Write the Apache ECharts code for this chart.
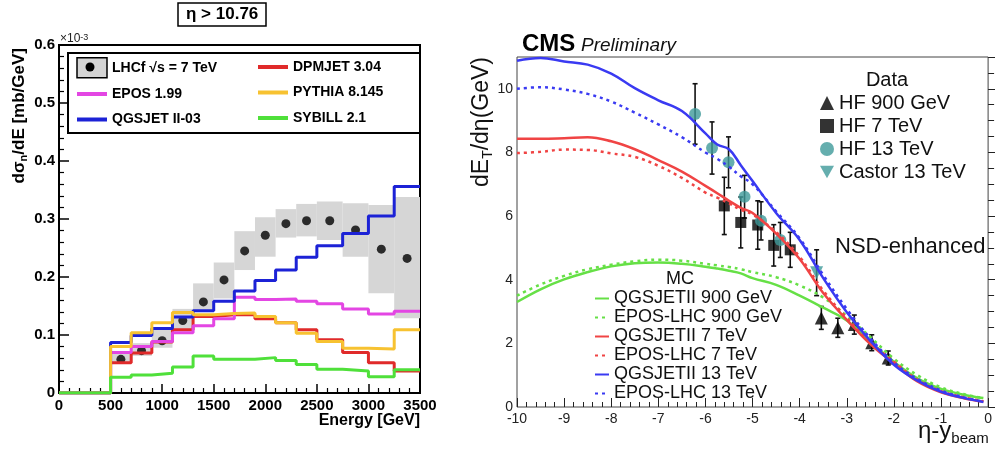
<!DOCTYPE html>
<html>
<head>
<meta charset="utf-8">
<script src="https://cdn.jsdelivr.net/npm/echarts@6/dist/echarts.min.js"></script>
<style>html,body{margin:0;padding:0;background:#fff}#main{width:995px;height:454px}</style>
</head>
<body>
<div id="main"></div>
<script>
// ---- left panel: neutron energy spectrum, eta > 10.76 ----
var binEdges = [0,500,700,900,1100,1300,1500,1700,1900,2100,2300,2500,2750,3000,3250,3500];
var qgsjetII03 = [0,0.087,0.099,0.111,0.131,0.142,0.158,0.176,0.194,0.212,0.234,0.254,0.275,0.305,0.356];
var epos199    = [0,0.070,0.080,0.089,0.104,0.116,0.128,0.165,0.161,0.162,0.158,0.154,0.145,0.136,0.141];
var dpmjet304  = [0,0.052,0.069,0.088,0.109,0.132,0.135,0.135,0.128,0.121,0.109,0.092,0.070,0.052,0.038];
var pythia8145 = [0,0.080,0.104,0.121,0.139,0.135,0.137,0.138,0.132,0.121,0.103,0.089,0.077,0.076,0.109];
var sybill21   = [0,0.027,0.031,0.034,0.045,0.064,0.058,0.058,0.061,0.056,0.049,0.041,0.038,0.028,0.040];

var lhcfE   = [600,800,1000,1200,1400,1600,1800,2000,2200,2400,2625,2875,3125,3375];
var lhcfVal = [0.058,0.073,0.090,0.125,0.157,0.195,0.245,0.272,0.292,0.297,0.297,0.281,0.248,0.232];
var lhcfLo  = [0.050,0.064,0.078,0.106,0.140,0.163,0.212,0.235,0.268,0.270,0.264,0.235,0.172,0.129];
var lhcfHi  = [0.068,0.086,0.109,0.145,0.189,0.225,0.279,0.303,0.317,0.326,0.330,0.327,0.324,0.338];

// ---- right panel: dE_T/deta vs eta - y_beam ----
var etaGrid = [-10,-9.5,-9,-8.5,-8,-7.5,-7,-6.5,-6,-5.75,-5.5,-5.25,-5,-4.5,-4,-3.5,-3,-2.5,-2,-1.5,-1,-0.5,-0.1];
var qgs900  = [3.30,3.70,4.01,4.24,4.42,4.52,4.54,4.50,4.41,4.35,4.28,4.20,4.05,3.84,3.50,3.12,2.72,2.05,1.42,0.90,0.57,0.38,0.28];
var epos900 = [3.50,3.85,4.12,4.33,4.47,4.58,4.63,4.60,4.50,4.45,4.40,4.33,4.24,4.08,3.82,3.44,2.86,2.20,1.52,1.00,0.62,0.40,0.28];
var qgs7    = [8.43,8.43,8.45,8.48,8.35,8.10,7.76,7.40,6.95,6.72,6.48,6.26,6.10,5.45,4.65,3.58,2.74,1.98,1.37,0.80,0.46,0.27,0.17];
var epos7   = [7.98,8.02,8.09,8.08,7.97,7.86,7.58,7.20,6.74,6.58,6.40,6.20,6.05,5.50,4.72,3.66,2.80,2.05,1.42,0.86,0.50,0.30,0.18];
var qgs13   = [10.88,10.97,10.86,10.76,10.48,10.02,9.64,9.30,8.60,8.25,8.10,7.60,7.10,6.10,5.25,4.05,2.98,2.08,1.33,0.83,0.48,0.28,0.16];
var epos13  = [10.00,10.05,9.98,9.84,9.60,9.25,8.88,8.48,8.00,7.80,7.55,7.25,7.00,6.15,5.30,4.15,3.08,2.16,1.40,0.88,0.52,0.30,0.17];

var hf900Eta = [-3.54,-3.19,-2.84,-2.47,-2.12];
var hf900Val = [2.80,2.49,2.59,2.02,1.54];
var hf900Err = [0.36,0.30,0.30,0.25,0.22];
var hf7Eta = [-5.60,-5.25,-4.89,-4.55,-4.20];
var hf7Val = [6.32,5.80,5.72,5.08,4.94];
var hf7Err = [0.90,0.80,0.76,0.65,0.55];
var hf13Eta = [-6.22,-5.86,-5.51,-5.17,-4.82,-4.41];
var hf13Val = [9.21,8.14,7.69,6.61,5.85,5.25];
var hf13Err = [0.95,0.82,0.80,0.67,0.60,0.55];
var castorEta = [-3.64];
var castorVal = [4.22];
var castorErr = [0.72];

var font = 'Liberation Sans';

function histo(vals) {
    var d = [];
    for (var i = 0; i < vals.length; i++) d.push([binEdges[i], vals[i]]);
    d.push([binEdges[binEdges.length - 1], vals[vals.length - 1]]);
    return d;
}
function pairs(xs, ys) {
    return xs.map(function (x, i) { return [x, ys[i]]; });
}
function errRows(xs, ys, es) {
    return xs.map(function (x, i) { return [x, ys[i] - es[i], ys[i] + es[i]]; });
}
function histLine(name, vals, color) {
    return {
        name: name, type: 'line', xAxisIndex: 0, yAxisIndex: 0,
        data: histo(vals), step: 'end', symbol: 'none',
        lineStyle: {color: color, width: 3}, itemStyle: {color: color}
    };
}
function mcLine(name, vals, color, dotted) {
    return {
        name: name, type: 'line', xAxisIndex: 1, yAxisIndex: 1,
        data: pairs(etaGrid, vals), smooth: 0.4, symbol: 'none',
        lineStyle: {color: color, width: 2.5, type: dotted ? [3, 4] : 'solid'},
        itemStyle: {color: color}
    };
}

var bandRows = [];
for (var i = 0; i < lhcfLo.length; i++) {
    bandRows.push([binEdges[i + 1], binEdges[i + 2], lhcfLo[i], lhcfHi[i]]);
}

var errBars = function (params, api) {
    var x = api.value(0);
    var lo = api.coord([x, api.value(1)]);
    var hi = api.coord([x, api.value(2)]);
    var st = {stroke: '#111', lineWidth: 1.6};
    return {type: 'group', children: [
        {type: 'line', shape: {x1: lo[0], y1: lo[1], x2: hi[0], y2: hi[1]}, style: st},
        {type: 'line', shape: {x1: lo[0] - 2.5, y1: lo[1], x2: lo[0] + 2.5, y2: lo[1]}, style: st},
        {type: 'line', shape: {x1: hi[0] - 2.5, y1: hi[1], x2: hi[0] + 2.5, y2: hi[1]}, style: st}
    ]};
};

var teal = '#3f9a9a';
var leftLegendText = {fontFamily: font, fontSize: 14, fontWeight: 'bold', color: '#000', lineHeight: 20};
var chart = echarts.init(document.getElementById('main'));
var option = {
    animation: false,
    textStyle: {fontFamily: font},
    title: {
        text: 'η > 10.76', left: 178, top: 3, padding: [3, 8],
        borderColor: '#000', borderWidth: 1.5,
        textStyle: {fontFamily: font, fontSize: 17, fontWeight: 'bold', color: '#000'}
    },
    grid: [
        {left: 59, top: 45, width: 361, height: 348, show: true, borderColor: '#000', borderWidth: 2, backgroundColor: '#fff'},
        {left: 517, top: 57, width: 476, height: 350, show: true, borderColor: '#444', borderWidth: 1, backgroundColor: '#fff'}
    ],
    xAxis: [
        {type: 'value', gridIndex: 0, min: 0, max: 3500, interval: 500,
            axisLine: {show: false}, splitLine: {show: false},
            axisTick: {inside: true, length: 9, lineStyle: {color: '#000', width: 1.5}},
            minorTick: {show: true, splitNumber: 5, length: 5, lineStyle: {color: '#000', width: 1.2}},
            axisLabel: {fontSize: 15, fontWeight: 'bold', color: '#000', margin: 5,
                formatter: function (v) { return String(v); }}},
        {type: 'value', gridIndex: 1, min: -10, max: 0, interval: 1,
            axisLine: {show: false}, splitLine: {show: false},
            axisTick: {inside: true, length: 9, lineStyle: {color: '#222'}},
            minorTick: {show: true, splitNumber: 5, length: 5, lineStyle: {color: '#222'}},
            axisLabel: {fontSize: 14, color: '#222', margin: 5}}
    ],
    yAxis: [
        {type: 'value', gridIndex: 0, min: 0, max: 0.6, interval: 0.1,
            axisLine: {show: false}, splitLine: {show: false},
            axisTick: {inside: true, length: 10, lineStyle: {color: '#000', width: 1.5}},
            minorTick: {show: true, splitNumber: 5, length: 5, lineStyle: {color: '#000', width: 1.2}},
            axisLabel: {fontSize: 15, fontWeight: 'bold', color: '#000', margin: 4,
                formatter: function (v) { return v === 0 ? '0' : v.toFixed(1); }}},
        {type: 'value', gridIndex: 1, min: 0, max: 11, interval: 2,
            axisLine: {show: false}, splitLine: {show: false},
            axisTick: {inside: true, length: 13, lineStyle: {color: '#222'}},
            minorTick: {show: true, splitNumber: 4, length: 6, lineStyle: {color: '#222'}},
            axisLabel: {fontSize: 14, color: '#222', margin: 4, showMaxLabel: false}}
    ],
    legend: [
        {orient: 'vertical', left: 75, top: 57, padding: 0, itemWidth: 30, itemHeight: 20, itemGap: 5.5,
            selectedMode: false, textStyle: leftLegendText, itemStyle: {opacity: 0}, lineStyle: {width: 4},
            data: [{name: 'LHCf √s = 7 TeV', icon: 'rect', itemStyle: {color: '#d4d4d4', borderColor: '#000', borderWidth: 1.5, opacity: 1}},
                'EPOS 1.99', 'QGSJET II-03']},
        {orient: 'vertical', left: 256, top: 57, padding: 0, itemWidth: 30, itemHeight: 20, itemGap: 5.5,
            selectedMode: false, textStyle: leftLegendText, itemStyle: {opacity: 0}, lineStyle: {width: 4},
            data: ['DPMJET 3.04', 'PYTHIA 8.145', 'SYBILL 2.1']},
        {orient: 'vertical', left: 820, top: 93, padding: 0, itemWidth: 14, itemHeight: 14, itemGap: 3,
            selectedMode: false, textStyle: {fontFamily: font, fontSize: 20, color: '#111', lineHeight: 20},
            data: ['HF 900 GeV', 'HF 7 TeV', 'HF 13 TeV',
                {name: 'Castor 13 TeV', icon: 'path://M0,0 L10,0 L5,9 Z'}]},
        {orient: 'vertical', left: 594, top: 289, padding: 0, itemWidth: 14, itemHeight: 10, itemGap: 0,
            selectedMode: false, textStyle: {fontFamily: font, fontSize: 18, color: '#111', lineHeight: 19},
            itemStyle: {opacity: 0},
            data: ['QGSJETII 900 GeV', 'EPOS-LHC 900 GeV', 'QGSJETII 7 TeV', 'EPOS-LHC 7 TeV', 'QGSJETII 13 TeV', 'EPOS-LHC 13 TeV']}
    ],
    graphic: [
        {type: 'rect', shape: {x: 68, y: 53, width: 352, height: 80}, style: {fill: 'none', stroke: '#000', lineWidth: 2}, z: 10},
        {type: 'circle', shape: {cx: 90, cy: 67, r: 4.5}, style: {fill: '#000'}, z: 10},
        {type: 'text', x: 60, y: 39, style: {text: '×10{s|-3}', fontFamily: font, fontSize: 12, fill: '#222',
            verticalAlign: 'middle', rich: {s: {fontSize: 9, verticalAlign: 'top', fill: '#222'}}}},
        {type: 'text', x: 19, y: 48, rotation: Math.PI / 2,
            style: {text: 'dσ{s|n}/dE [mb/GeV]', fontFamily: font, fontSize: 17, fontWeight: 'bold', fill: '#000',
                align: 'right', verticalAlign: 'middle',
                rich: {s: {fontSize: 11, fontWeight: 'bold', fontFamily: font, padding: [9, 0, 0, 0]}}}},
        {type: 'text', x: 420, y: 421, style: {text: 'Energy [GeV]', fontFamily: font, fontSize: 16, fontWeight: 'bold',
            fill: '#000', align: 'right', verticalAlign: 'middle'}},
        {type: 'text', x: 522, y: 44, style: {text: 'CMS', fontFamily: font, fontSize: 24, fontWeight: 'bold', fill: '#000', verticalAlign: 'middle'}},
        {type: 'text', x: 581, y: 46, style: {text: 'Preliminary', fontFamily: font, fontSize: 19, fontStyle: 'italic', fill: '#111', verticalAlign: 'middle'}},
        {type: 'text', x: 482, y: 57, rotation: Math.PI / 2,
            style: {text: 'dE{s|T}/dη(GeV)', fontFamily: font, fontSize: 23, fill: '#111',
                align: 'right', verticalAlign: 'middle',
                rich: {s: {fontSize: 14, fontFamily: font, padding: [13, 0, 0, 0]}}}},
        {type: 'text', x: 887, y: 80, style: {text: 'Data', fontFamily: font, fontSize: 20, fill: '#111', align: 'center', verticalAlign: 'middle'}},
        {type: 'text', x: 835, y: 247, style: {text: 'NSD-enhanced', fontFamily: font, fontSize: 22, fill: '#111', verticalAlign: 'middle'}},
        {type: 'text', x: 680, y: 279, style: {text: 'MC', fontFamily: font, fontSize: 18, fill: '#111', align: 'center', verticalAlign: 'middle'}},
        {type: 'text', x: 918, y: 431, style: {text: 'η-y{s|beam}', fontFamily: font, fontSize: 24, fill: '#111',
            verticalAlign: 'middle', rich: {s: {fontSize: 15, fontFamily: font, padding: [16, 0, 0, 0]}}}}
    ],
    series: [
        {name: 'LHCf syst', type: 'custom', xAxisIndex: 0, yAxisIndex: 0, data: bandRows,
            encode: {x: [0, 1], y: [2, 3]},
            renderItem: function (params, api) {
                var p0 = api.coord([api.value(0), api.value(3)]);
                var p1 = api.coord([api.value(1), api.value(2)]);
                return {type: 'rect', shape: {x: p0[0], y: p0[1], width: p1[0] - p0[0], height: p1[1] - p0[1]},
                    style: {fill: '#d6d6d6'}};
            }},
        histLine('DPMJET 3.04', dpmjet304, '#e02a2a'),
        histLine('EPOS 1.99', epos199, '#e346e3'),
        histLine('QGSJET II-03', qgsjetII03, '#1c22d6'),
        histLine('PYTHIA 8.145', pythia8145, '#f7c231'),
        histLine('SYBILL 2.1', sybill21, '#4fe03a'),
        {name: 'LHCf √s = 7 TeV', type: 'scatter', xAxisIndex: 0, yAxisIndex: 0,
            data: pairs(lhcfE, lhcfVal), symbol: 'circle', symbolSize: 9, itemStyle: {color: '#000'}},

        mcLine('QGSJETII 900 GeV', qgs900, '#66e046', false),
        mcLine('EPOS-LHC 900 GeV', epos900, '#66e046', true),
        mcLine('QGSJETII 7 TeV', qgs7, '#f04444', false),
        mcLine('EPOS-LHC 7 TeV', epos7, '#f04444', true),
        mcLine('QGSJETII 13 TeV', qgs13, '#3a3af2', false),
        mcLine('EPOS-LHC 13 TeV', epos13, '#3a3af2', true),

        {name: 'errors', type: 'custom', xAxisIndex: 1, yAxisIndex: 1, renderItem: errBars,
            encode: {x: 0, y: [1, 2]},
            data: errRows(hf900Eta, hf900Val, hf900Err).concat(errRows(hf7Eta, hf7Val, hf7Err),
                errRows(hf13Eta, hf13Val, hf13Err), errRows(castorEta, castorVal, castorErr))},
        {name: 'HF 900 GeV', type: 'scatter', xAxisIndex: 1, yAxisIndex: 1, data: pairs(hf900Eta, hf900Val),
            symbol: 'triangle', symbolSize: 13, itemStyle: {color: '#000'}},
        {name: 'HF 7 TeV', type: 'scatter', xAxisIndex: 1, yAxisIndex: 1, data: pairs(hf7Eta, hf7Val),
            symbol: 'rect', symbolSize: 11, itemStyle: {color: '#000'}},
        {name: 'HF 13 TeV', type: 'scatter', xAxisIndex: 1, yAxisIndex: 1, data: pairs(hf13Eta, hf13Val),
            symbol: 'circle', symbolSize: 12, itemStyle: {color: teal}},
        {name: 'Castor 13 TeV', type: 'scatter', xAxisIndex: 1, yAxisIndex: 1, data: pairs(castorEta, castorVal),
            symbol: 'triangle', symbolRotate: 180, symbolSize: 13, itemStyle: {color: teal}}
    ]
};
chart.setOption(option);
</script>
</body>
</html>
